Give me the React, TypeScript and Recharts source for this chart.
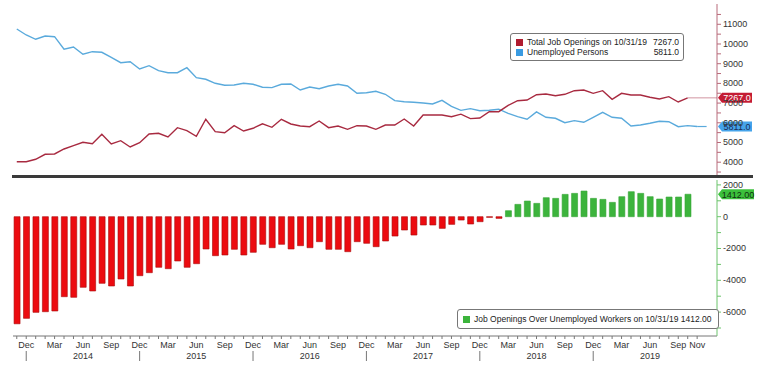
import {
  Bar,
  Cell,
  ComposedChart,
  Line,
  ReferenceDot,
  ReferenceLine,
  XAxis,
  YAxis,
} from "recharts";

const monthNames = ["Jan", "Feb", "Mar", "Apr", "May", "Jun", "Jul", "Aug", "Sep", "Oct", "Nov", "Dec"];

// Unemployed persons (thousands), Nov 2013 .. Nov 2019
const unemployed = [
  10761, 10457, 10239, 10406, 10371, 9731, 9848, 9477, 9609, 9579, 9325, 9051,
  9102, 8731, 8898, 8645, 8543, 8543, 8797, 8289, 8208, 8005, 7904, 7919,
  8005, 7954, 7802, 7784, 7954, 7970, 7665, 7817, 7731, 7868, 7954, 7868,
  7497, 7528, 7599, 7447, 7122, 7071, 7041, 7005, 6954, 7140, 6830, 6630,
  6720, 6610, 6640, 6690, 6480, 6310, 6180, 6550, 6280, 6230, 6005, 6107,
  6025, 6279, 6533, 6279, 6228, 5838, 5888, 5975, 6076, 6056, 5802, 5855,
  5811,
];

// Total job openings (thousands), Nov 2013 .. Oct 2019
const openings = [
  4025, 4025, 4147, 4401, 4418, 4670, 4838, 5010, 4939, 5416, 4924, 5091,
  4772, 4990, 5434, 5467, 5279, 5751, 5599, 5315, 6178, 5548, 5497, 5853,
  5584, 5721, 5950, 5772, 6178, 5939, 5838, 5802, 6091, 5751, 5838, 5670,
  5853, 5838, 5670, 5888, 5888, 6193, 5838, 6396, 6396, 6396, 6310, 6437,
  6213, 6244, 6563, 6563, 6880, 7122, 7157, 7426, 7462, 7376, 7447, 7629,
  7665, 7497, 7629, 7193, 7497, 7411, 7411, 7294, 7208, 7325, 7056, 7267,
];

// Job openings over unemployed workers, Nov 2013 .. Oct 2019
const gap = [
  -6736, -6392, -6015, -5975, -5931, -5031, -5069, -4440, -4673, -4189, -4358, -3918,
  -4358, -3711, -3522, -3182, -3270, -2786, -3182, -2956, -2031, -2453, -2409, -2050,
  -2409, -2239, -1736, -1950, -1736, -2031, -1824, -1950, -1572, -2050, -2050, -2201,
  -1572, -1673, -1887, -1530, -1216, -838, -1153, -524, -524, -734, -482, -210,
  -461, -314, -42, -105, 377, 776, 985, 838, 1195, 1153, 1404, 1467,
  1614, 1153, 1090, 901, 1258, 1572, 1467, 1258, 1111, 1237, 1237, 1412,
];

const topTicks = [3500, 4000, 4500, 5000, 5500, 6000, 6500, 7000, 7500, 8000, 8500, 9000, 9500, 10000, 10500, 11000, 11500];
const bottomTicks = [-7000, -6000, -5000, -4000, -3000, -2000, -1000, 0, 1000, 2000];
const labelMonths = ["Dec", "Mar", "Jun", "Sep"];

const data = unemployed.map((u, i) => {
  const m = (10 + i) % 12;
  return {
    i,
    month: monthNames[m],
    year: 2013 + Math.floor((10 + i) / 12),
    unemployed: u,
    openings: i < openings.length ? openings[i] : null,
    gap: i < gap.length ? gap[i] : null,
  };
});

const FONT = "'Liberation Sans', Arial, sans-serif";
const X_DOMAIN: [number, number] = [-0.4, 74.1];
const redLine = "#a82a40";
const blueLine = "#5aaadc";

function YTick(props: any) {
  const { x, y, payload, major } = props;
  if (!major.includes(payload.value)) return null;
  return (
    <text x={x} y={y} dy={3} fontSize={9} fontFamily={FONT} fill="#333">
      {payload.value}
    </text>
  );
}

function MonthTick(props: any) {
  const { x, y, payload } = props;
  const d = data[payload.value];
  if (!d) return null;
  const last = payload.value === data.length - 1;
  const show = last || labelMonths.includes(d.month);
  return (
    <g>
      {show && (
        <text x={x} y={y + 7} textAnchor="middle" fontSize={9} fontFamily={FONT} fill="#333">
          {d.month}
        </text>
      )}
      {d.month === "Jun" && (
        <text x={x} y={y + 18} textAnchor="middle" fontSize={9} fontFamily={FONT} fill="#333">
          {d.year}
        </text>
      )}
      {d.month === "Dec" && <line x1={x} x2={x} y1={y + 10} y2={y + 20} stroke="#777" />}
    </g>
  );
}

function badge(label: string, fill: string, color: string, w = 34) {
  return (p: any) => {
    const { cx, cy } = p;
    const x0 = cx + 1;
    const pts = `${x0},${cy} ${x0 + 4},${cy - 5} ${x0 + w},${cy - 5} ${x0 + w},${cy + 5} ${x0 + 4},${cy + 5}`;
    return (
      <g>
        <polygon points={pts} fill={fill} />
        <text x={x0 + 4 + (w - 4) / 2} y={cy + 3.5} textAnchor="middle" fontSize={9} fontFamily={FONT} fill={color}>
          {label}
        </text>
      </g>
    );
  };
}

function Swatch({ color }: { color: string }) {
  return <span style={{ display: "inline-block", width: 7, height: 7, background: color, marginRight: 4, flex: "none" }} />;
}

export default function App() {
  return (
    <div style={{ position: "absolute", left: 0, top: 0, width: 766, height: 369, background: "#fff", fontFamily: FONT }}>
      <div style={{ position: "absolute", left: 0, top: 0 }}>
        <ComposedChart width={766} height={178} data={data} margin={{ top: 4, right: 0, bottom: 2, left: 13 }}>
          <XAxis type="number" dataKey="i" domain={X_DOMAIN} allowDataOverflow hide />
          <YAxis
            orientation="right"
            type="number"
            domain={[3299, 12030]}
            allowDataOverflow
            ticks={topTicks}
            interval={0}
            width={49}
            tickSize={4}
            tickMargin={2}
            stroke="#b86a7a"
            tick={<YTick major={[4000, 5000, 6000, 7000, 8000, 9000, 10000, 11000]} />}
          />
          <Line type="linear" dataKey="unemployed" stroke={blueLine} strokeWidth={1.4} dot={false} isAnimationActive={false} />
          <Line type="linear" dataKey="openings" stroke={redLine} strokeWidth={1.4} dot={false} isAnimationActive={false} connectNulls={false} />
          <ReferenceLine segment={[{ x: 71, y: 7267 }, { x: 74.1, y: 7267 }]} stroke="#d9a6b0" strokeWidth={1.2} ifOverflow="visible" />
          <ReferenceLine segment={[{ x: 72, y: 5811 }, { x: 73, y: 5811 }]} stroke={blueLine} strokeWidth={1.2} ifOverflow="visible" />
          <ReferenceDot x={74.1} y={7267} r={0} ifOverflow="visible" shape={badge("7267.0", "#c41c34", "#fff")} />
          <ReferenceDot x={74.1} y={5811} r={0} ifOverflow="visible" shape={badge("5811.0", "#45a3ea", "#1b2f5a")} />
        </ComposedChart>
      </div>

      <div style={{ position: "absolute", left: 12, top: 175, width: 741, height: 3, background: "#3a3a3a" }} />

      <div style={{ position: "absolute", left: 0, top: 178 }}>
        <ComposedChart width={766} height={191} data={data} margin={{ top: 2, right: 0, bottom: 0, left: 13 }}>
          <XAxis
            type="number"
            dataKey="i"
            domain={X_DOMAIN}
            allowDataOverflow
            ticks={data.map((d) => d.i)}
            interval={0}
            height={33}
            tickSize={3}
            tickMargin={2}
            stroke="#777"
            tick={<MonthTick />}
          />
          <YAxis
            orientation="right"
            type="number"
            domain={[-7503, 2308]}
            allowDataOverflow
            ticks={bottomTicks}
            interval={0}
            width={49}
            tickSize={4}
            tickMargin={2}
            stroke="#6cc46c"
            tick={<YTick major={[-6000, -4000, -2000, 0, 2000]} />}
          />
          <Bar dataKey="gap" barSize={6} isAnimationActive={false}>
            {data.map((d) => (
              <Cell
                key={d.i}
                fill={(d.gap ?? 0) >= 0 ? "#3cb43c" : "#ec0b10"}
                stroke={(d.gap ?? 0) >= 0 ? "#34a434" : "#a80a0a"}
                strokeWidth={0.6}
              />
            ))}
          </Bar>
          <ReferenceDot x={74.1} y={1412} r={0} ifOverflow="visible" shape={badge("1412.00", "#3cc03c", "#10300f", 36)} />
        </ComposedChart>
      </div>

      <div
        style={{
          position: "absolute",
          left: 510,
          top: 33,
          width: 174,
          height: 28,
          border: "1px solid #777",
          borderRadius: 3,
          background: "#fff",
          fontSize: 8.5,
          color: "#222",
          padding: "0 4px 0 5px",
          boxSizing: "border-box",
          whiteSpace: "nowrap",
        }}
      >
        <div style={{ display: "flex", alignItems: "center", height: 10, marginTop: 3 }}>
          <Swatch color="#b01c30" />
          <span style={{ flex: 1 }}>Total Job Openings on 10/31/19</span>
          <span>7267.0</span>
        </div>
        <div style={{ display: "flex", alignItems: "center", height: 10 }}>
          <Swatch color="#3a9be2" />
          <span style={{ flex: 1 }}>Unemployed Persons</span>
          <span>5811.0</span>
        </div>
      </div>

      <div
        style={{
          position: "absolute",
          left: 457,
          top: 309,
          width: 262,
          height: 20,
          border: "1px solid #777",
          borderRadius: 3,
          background: "#fff",
          fontSize: 8.5,
          color: "#222",
          display: "flex",
          alignItems: "center",
          padding: "0 5px",
          boxSizing: "border-box",
          whiteSpace: "nowrap",
        }}
      >
        <Swatch color="#3cb43c" />
        <span>Job Openings Over Unemployed Workers on 10/31/19 1412.00</span>
      </div>
    </div>
  );
}
